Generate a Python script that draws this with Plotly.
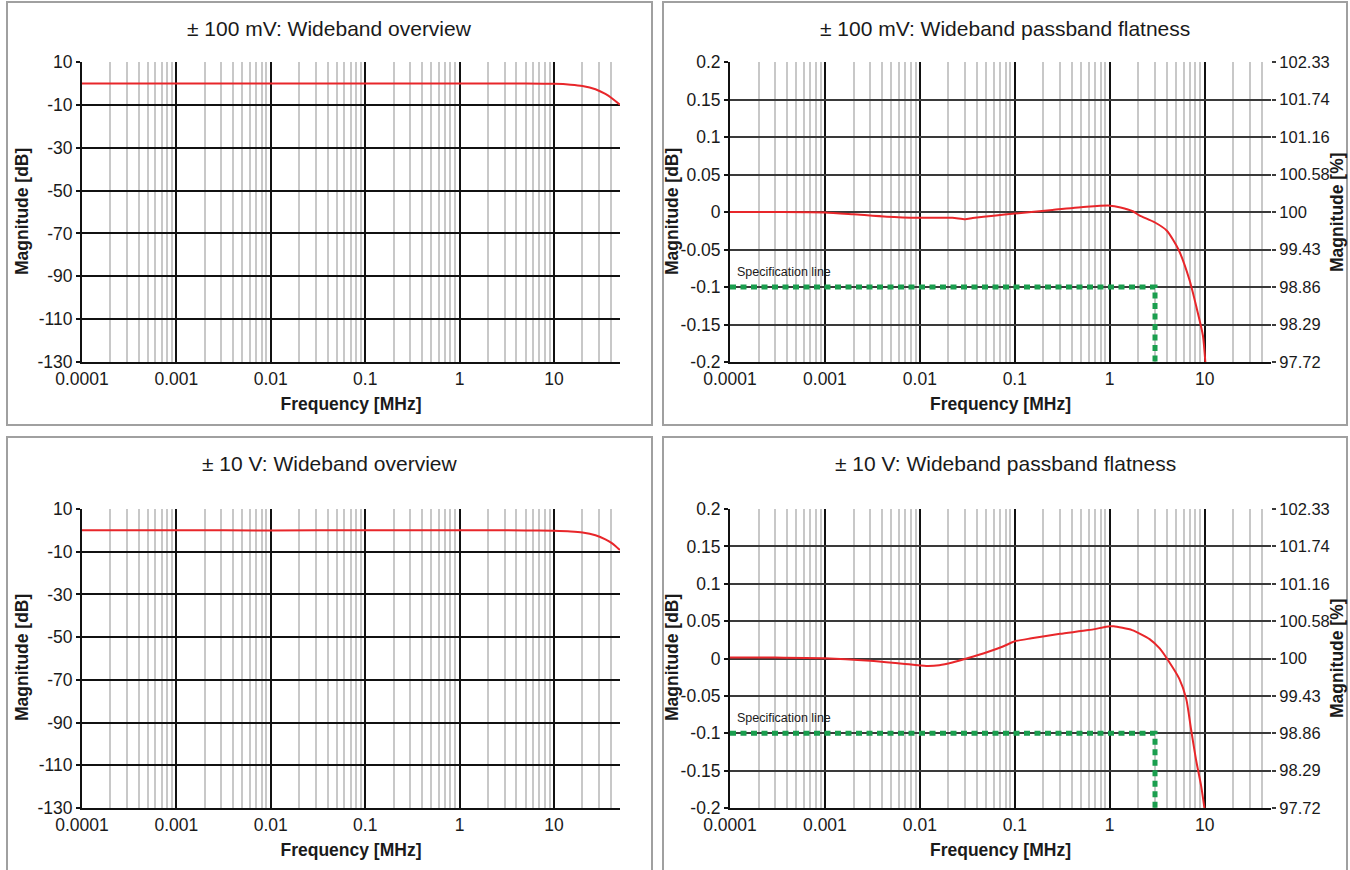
import plotly.graph_objects as go

# ---------------- data ----------------
titles = ["± 100 mV: Wideband overview", "± 100 mV: Wideband passband flatness",
          "± 10 V: Wideband overview", "± 10 V: Wideband passband flatness"]

ov100_freq = [1e-4, 1e-3, 1e-2, 0.1, 1, 5, 10, 15, 20, 27.5, 35, 41, 45, 50]
ov100_mag = [0, 0, -0.01, -0.01, 0.01, -0.03, -0.2, -0.6, -1.2, -2.7, -4.9, -6.9, -8.3, -10.0]

ov10_freq = [1e-4, 1e-3, 1e-2, 0.1, 1, 5, 10, 15, 20, 27.5, 35, 41, 45, 50]
ov10_mag = [0, 0, -0.01, 0.02, 0.04, -0.02, -0.2, -0.5, -1.0, -2.3, -4.2, -6.0, -7.4, -9.2]

fl100_freq = [1e-4, 3e-4, 1e-3, 2e-3, 4.5e-3, 1e-2, 2.2e-2, 3e-2, 3.6e-2, 0.06, 0.1, 0.25,
              0.57, 1.0, 1.3, 1.75, 2.05, 3.0, 4.0, 5.3, 6.9, 8.2, 9.6, 10.3]
fl100_mag = [0, 0, -0.0005, -0.003, -0.0063, -0.0077, -0.0077, -0.0095, -0.008, -0.005, -0.002, 0.0027,
             0.007, 0.0085, 0.006, 0.001, -0.0045, -0.014, -0.025, -0.05, -0.09, -0.127, -0.165, -0.21]

fl10_freq = [1e-4, 3e-4, 1e-3, 3e-3, 6.6e-3, 1.17e-2, 1.6e-2, 2.2e-2, 3.1e-2, 5e-2, 7.5e-2, 0.1,
             0.15, 0.3, 0.6, 1.0, 1.1, 1.72, 2.63, 3.36, 4.1, 5.4, 6.4, 7.2, 8.1, 9.2, 9.9, 10.2]
fl10_mag = [0.0015, 0.0012, 0.0005, -0.003, -0.007, -0.0099, -0.009, -0.0054, 0.0, 0.008, 0.016, 0.023,
            0.027, 0.033, 0.038, 0.043, 0.043, 0.038, 0.026, 0.0135, -0.002, -0.027, -0.054, -0.095,
            -0.135, -0.171, -0.198, -0.21]

spec_freq = [1e-4, 3, 3]
spec_mag = [-0.1, -0.1, -0.2]

x_tickvals = [1e-4, 1e-3, 1e-2, 0.1, 1, 10]
x_ticktext = ["0.0001", "0.001", "0.01", "0.1", "1", "10"]
ov_tickvals = [10, -10, -30, -50, -70, -90, -110, -130]
fl_tickvals = [0.2, 0.15, 0.1, 0.05, 0, -0.05, -0.1, -0.15, -0.2]
fl_ticktext = ["0.2", "0.15", "0.1", "0.05", "0", "-0.05", "-0.1", "-0.15", "-0.2"]
pct_ticktext = ["102.33", "101.74", "101.16", "100.58", "100", "99.43", "98.86", "98.29", "97.72"]

# ---------------- style ----------------
W, H = 1350, 870
FONT = "Liberation Sans, Arial, Helvetica, sans-serif"
RED = "#e8262a"
GREEN = "#1a9e4e"
TXT = "#1a1a1a"

def px_x(p):
    return p / W

def px_y(p):
    return 1 - p / H

left_dom = [px_x(82), px_x(620)]
right_dom = [px_x(730), px_x(1271)]
top_dom = [px_y(362), px_y(62)]
bot_dom = [px_y(808), px_y(509)]

fig = go.Figure()

def line_trace(x, y, xa, ya, shape="linear"):
    return go.Scatter(x=x, y=y, xaxis=xa, yaxis=ya, mode="lines",
                      line=dict(color=RED, width=2, shape=shape, smoothing=0.6),
                      hoverinfo="skip", showlegend=False)

def spec_trace(xa, ya):
    return go.Scatter(x=spec_freq, y=spec_mag, xaxis=xa, yaxis=ya, mode="lines",
                      line=dict(color=GREEN, width=5, dash="6px,4.5px"),
                      hoverinfo="skip", showlegend=False)

fig.add_trace(line_trace(ov100_freq, ov100_mag, "x", "y", "spline"))
fig.add_trace(spec_trace("x2", "y2"))
fig.add_trace(line_trace(fl100_freq, fl100_mag, "x2", "y2", "spline"))
fig.add_trace(line_trace(ov10_freq, ov10_mag, "x3", "y3", "spline"))
fig.add_trace(spec_trace("x4", "y4"))
fig.add_trace(line_trace(fl10_freq, fl10_mag, "x4", "y4", "spline"))
# carriers for the right-hand percentage axes
fig.add_trace(go.Scatter(x=spec_freq[:1], y=spec_mag[:1], xaxis="x2", yaxis="y5", mode="markers",
                         marker=dict(opacity=0), hoverinfo="skip", showlegend=False))
fig.add_trace(go.Scatter(x=spec_freq[:1], y=spec_mag[:1], xaxis="x4", yaxis="y6", mode="markers",
                         marker=dict(opacity=0), hoverinfo="skip", showlegend=False))

tickfont = dict(family=FONT, size=17.5, color=TXT)
titlefont = dict(family=FONT, size=17.5, color=TXT, weight="bold")

def xaxis(domain, anchor):
    return dict(domain=domain, anchor=anchor, type="log", range=[-4, 1.69897],
                tickvals=x_tickvals, ticktext=x_ticktext, tickfont=tickfont,
                showgrid=True, gridcolor="#111111", gridwidth=2,
                minor=dict(dtick="D1", showgrid=True, gridcolor="#c8c8c8", gridwidth=1.5, ticks=""),
                showline=True, linecolor="#111111", linewidth=2, ticks="", zeroline=False,
                title=dict(text="Frequency [MHz]", font=titlefont, standoff=10))

def yaxis(domain, anchor, tickvals, ticktext, rng, gridcolor):
    return dict(domain=domain, anchor=anchor, range=rng, tickvals=tickvals, ticktext=ticktext,
                tickfont=tickfont, showgrid=True, gridcolor=gridcolor, gridwidth=2,
                showline=True, linecolor="#111111", linewidth=2, ticks="outside", ticklen=4,
                tickcolor="#111111", tickwidth=1.5, zeroline=False)

fig.update_layout(
    width=W, height=H, template="none",
    margin=dict(l=0, r=0, t=0, b=0),
    paper_bgcolor="white", plot_bgcolor="white",
    xaxis=xaxis(left_dom, "y"),
    xaxis2=xaxis(right_dom, "y2"),
    xaxis3=xaxis(left_dom, "y3"),
    xaxis4=xaxis(right_dom, "y4"),
    yaxis=yaxis(top_dom, "x", ov_tickvals, [str(v) for v in ov_tickvals], [-130, 10], "#111111"),
    yaxis2=yaxis(top_dom, "x2", fl_tickvals, fl_ticktext, [-0.2, 0.2], "#3a3a3a"),
    yaxis3=yaxis(bot_dom, "x3", ov_tickvals, [str(v) for v in ov_tickvals], [-130, 10], "#111111"),
    yaxis4=yaxis(bot_dom, "x4", fl_tickvals, fl_ticktext, [-0.2, 0.2], "#3a3a3a"),
)

for name, anchor, over in [("yaxis5", "x2", "y2"), ("yaxis6", "x4", "y4")]:
    fig.layout[name] = dict(overlaying=over, anchor=anchor, side="right", range=[-0.2, 0.2],
                            tickvals=fl_tickvals, ticktext=pct_ticktext,
                            tickfont=dict(family=FONT, size=16.5, color=TXT),
                            showgrid=False, zeroline=False, showline=False,
                            ticks="outside", ticklen=4, tickcolor="#3a3a3a", tickwidth=1.5,
                            ticklabelstandoff=0)

# vertical axis titles
ytitles = [("Magnitude [dB]", 22, 212), ("Magnitude [dB]", 672, 212), ("Magnitude [%]", 1337, 212),
           ("Magnitude [dB]", 22, 658), ("Magnitude [dB]", 672, 658), ("Magnitude [%]", 1337, 658)]
for t, cx, cy in ytitles:
    fig.add_annotation(text=t, xref="paper", yref="paper", x=px_x(cx), y=px_y(cy),
                       xanchor="center", yanchor="middle", textangle=-90, showarrow=False,
                       font=titlefont)

# panel frames
boxes = [(7, 2, 652, 425), (663, 2, 1347, 425), (7, 437, 652, 880), (663, 437, 1347, 880)]
for (x0, y0, x1, y1) in boxes:
    fig.add_shape(type="rect", xref="paper", yref="paper",
                  x0=px_x(x0), x1=px_x(x1), y0=px_y(y1), y1=px_y(y0),
                  line=dict(color="#a0a0a0", width=2), fillcolor="rgba(0,0,0,0)", layer="below")

# panel titles
title_pos = [(329.5, 28), (1005, 28), (329.5, 463), (1005, 463)]
for t, (cx, cy) in zip(titles, title_pos):
    fig.add_annotation(text=t, xref="paper", yref="paper", x=px_x(cx), y=px_y(cy),
                       xanchor="center", yanchor="middle", showarrow=False,
                       font=dict(family=FONT, size=21, color=TXT))

# specification labels
for xa, ya in [("x2", "y2"), ("x4", "y4")]:
    fig.add_annotation(text="Specification line", xref=xa, yref=ya, x=-4, y=spec_mag[0],
                       xanchor="left", yanchor="bottom", xshift=5, yshift=6, showarrow=False,
                       font=dict(family=FONT, size=12.5, color=TXT))

fig.write_html("out.html", config={"displayModeBar": False},
               post_script="document.body.style.margin='0';document.body.style.overflow='hidden';")
